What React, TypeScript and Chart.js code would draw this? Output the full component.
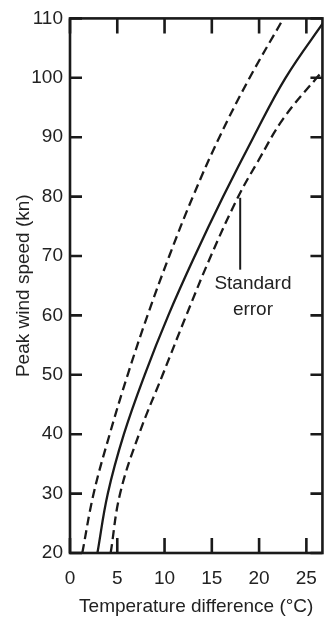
import React, { useEffect, useRef } from "react";
import { Chart, registerables } from "chart.js";

Chart.register(...registerables);

// ---- data ----
const MEAN_SPEED = [20, 30, 40, 50, 60, 70, 80, 90, 100, 110];
const MEAN_TEMP = [2.9, 4.0, 5.7, 7.9, 10.4, 13.2, 16.2, 19.4, 22.8, 27.1];

const UPPER_SPEED = [20, 30, 40, 50, 60, 70, 80, 90, 100, 109.5];
const UPPER_TEMP = [1.3, 2.5, 4.2, 6.1, 8.2, 10.5, 13.0, 15.8, 19.0, 22.4];

const LOWER_SPEED = [20, 30, 40, 50, 60, 70, 80, 86, 93.2, 100, 102];
const LOWER_TEMP = [4.3, 5.3, 7.3, 9.8, 12.3, 14.9, 17.8, 19.9, 22.6, 26.1, 27.3];

const X_TICKS = [0, 5, 10, 15, 20, 25];
const Y_TICKS = [20, 30, 40, 50, 60, 70, 80, 90, 100, 110];

const X_TITLE = "Temperature difference (°C)";
const Y_TITLE = "Peak wind speed (kn)";
const NOTE_LINES = ["Standard", "error"];
// pointer line (temperature, top speed, bottom speed) and text anchor
const NOTE_POINTER = [18.0, 79.8, 67.7];
const NOTE_TEXT_AT = [19.35, 64.5, 60.0];

const INK = "#1a1a1a";
const TEXT = "#222222";
const FONT = "'Liberation Sans', Arial, sans-serif";

const toPoints = (xs: number[], ys: number[]) => xs.map((x, i) => ({ x, y: ys[i] }));

const framePlugin = {
  id: "frameTicks",
  afterDatasetsDraw(chart: any) {
    const { ctx, chartArea: a, scales } = chart;
    const xs = scales.x;
    const ys = scales.y;
    ctx.save();
    ctx.strokeStyle = INK;
    ctx.lineWidth = 2.6;
    ctx.lineCap = "butt";
    ctx.strokeRect(a.left, a.top, a.right - a.left, a.bottom - a.top);
    ctx.beginPath();
    X_TICKS.forEach((v) => {
      const px = xs.getPixelForValue(v);
      ctx.moveTo(px, a.bottom);
      ctx.lineTo(px, a.bottom - 15);
      ctx.moveTo(px, a.top);
      ctx.lineTo(px, a.top + 15);
    });
    Y_TICKS.forEach((v) => {
      const py = ys.getPixelForValue(v);
      ctx.moveTo(a.left, py);
      ctx.lineTo(a.left + 12, py);
      ctx.moveTo(a.right, py);
      ctx.lineTo(a.right - 12, py);
    });
    ctx.stroke();

    // "Standard error" pointer
    ctx.lineWidth = 2;
    ctx.beginPath();
    const lx = xs.getPixelForValue(NOTE_POINTER[0]);
    ctx.moveTo(lx, ys.getPixelForValue(NOTE_POINTER[1]));
    ctx.lineTo(lx, ys.getPixelForValue(NOTE_POINTER[2]));
    ctx.stroke();

    ctx.fillStyle = TEXT;
    ctx.font = `19px ${FONT}`;
    ctx.textAlign = "center";
    ctx.textBaseline = "alphabetic";
    const tx = xs.getPixelForValue(NOTE_TEXT_AT[0]);
    ctx.fillText(NOTE_LINES[0], tx, ys.getPixelForValue(NOTE_TEXT_AT[1]));
    ctx.fillText(NOTE_LINES[1], tx, ys.getPixelForValue(NOTE_TEXT_AT[2]));
    ctx.restore();
  },
};

export default function App() {
  const ref = useRef<HTMLCanvasElement | null>(null);

  useEffect(() => {
    if (!ref.current) return;
    const lineBase = {
      showLine: true,
      pointRadius: 0,
      pointHoverRadius: 0,
      borderColor: INK,
      backgroundColor: INK,
      borderWidth: 2.3,
      tension: 0.4,
      fill: false,
    };
    const chart = new Chart(ref.current, {
      type: "scatter",
      data: {
        datasets: [
          { ...lineBase, label: "Upper", data: toPoints(UPPER_TEMP, UPPER_SPEED), borderDash: [9, 5] },
          { ...lineBase, label: "Mean", data: toPoints(MEAN_TEMP, MEAN_SPEED) },
          { ...lineBase, label: "Lower", data: toPoints(LOWER_TEMP, LOWER_SPEED), borderDash: [9, 5] },
        ],
      },
      options: {
        animation: false,
        responsive: false,
        devicePixelRatio: 1,
        layout: { padding: { top: 17, right: 1, left: 0, bottom: 0 } },
        plugins: {
          legend: { display: false },
          tooltip: { enabled: false },
          title: { display: false },
        },
        scales: {
          x: {
            type: "linear",
            min: 0,
            max: 26.7,
            grid: { display: false, drawTicks: false },
            border: { display: false },
            afterBuildTicks: (s: any) => {
              s.ticks = X_TICKS.map((v) => ({ value: v }));
            },
            afterFit: (s: any) => {
              s.height = 68;
            },
            ticks: {
              color: TEXT,
              font: { family: FONT, size: 19 },
              padding: 14,
              maxRotation: 0,
              autoSkip: false,
            },
            title: {
              display: true,
              text: X_TITLE,
              color: TEXT,
              font: { family: FONT, size: 19 },
              padding: { top: 0, bottom: 3 },
            },
          },
          y: {
            type: "linear",
            min: 20,
            max: 110,
            grid: { display: false, drawTicks: false },
            border: { display: false },
            afterBuildTicks: (s: any) => {
              s.ticks = Y_TICKS.map((v) => ({ value: v }));
            },
            afterFit: (s: any) => {
              s.width = 70;
            },
            ticks: {
              color: TEXT,
              font: { family: FONT, size: 19 },
              padding: 7,
              autoSkip: false,
            },
            title: {
              display: true,
              text: Y_TITLE,
              color: TEXT,
              font: { family: FONT, size: 19 },
              padding: { top: 12, bottom: 0 },
            },
          },
        },
      },
      plugins: [framePlugin],
    });
    return () => chart.destroy();
  }, []);

  return (
    <div style={{ position: "absolute", left: 0, top: 0, width: 331, height: 621, background: "#fff" }}>
      <canvas ref={ref} width={331} height={621} style={{ width: 331, height: 621, display: "block" }} />
    </div>
  );
}
